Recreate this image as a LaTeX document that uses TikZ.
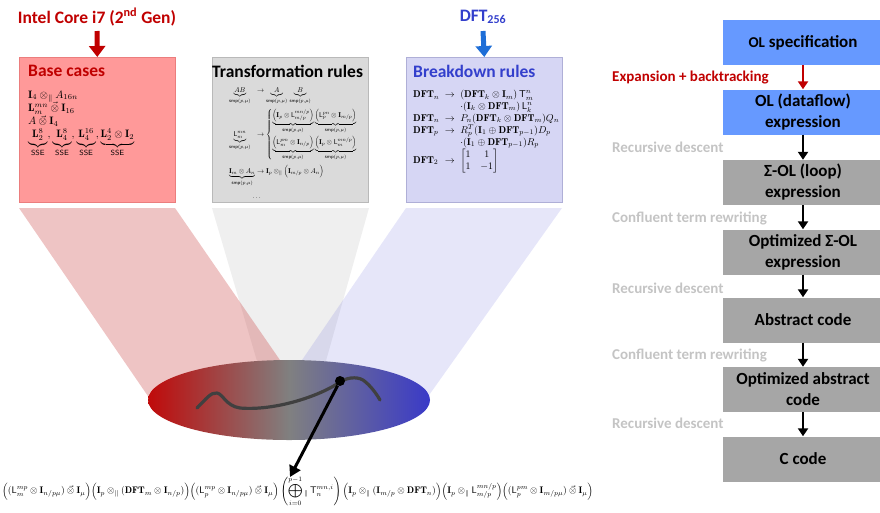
\documentclass[tikz,border=0pt]{standalone}
\usepackage{amsmath,amssymb}
\usepackage{fontspec}
\newfontfamily\calibri{Carlito}
\usetikzlibrary{arrows.meta}

\definecolor{darkred}{RGB}{192,0,0}
\definecolor{basefill}{RGB}{255,153,153}
\definecolor{baseedge}{RGB}{235,125,125}
\definecolor{rulefill}{RGB}{218,218,218}
\definecolor{ruleedge}{RGB}{185,185,185}
\definecolor{bdfill}{RGB}{214,214,244}
\definecolor{bdedge}{RGB}{175,175,215}
\definecolor{titleblue}{RGB}{51,63,204}
\definecolor{arrowblue}{RGB}{30,110,215}
\definecolor{olblue}{RGB}{102,153,255}
\definecolor{stagegray}{RGB}{166,166,166}
\definecolor{notegray}{RGB}{196,196,196}
\definecolor{ellred}{RGB}{192,10,10}
\definecolor{ellblue}{RGB}{58,58,200}
\definecolor{ellmid}{RGB}{128,128,128}
\definecolor{curvegray}{RGB}{64,64,64}
\definecolor{beamgray}{RGB}{239,239,239}
\definecolor{beamred}{RGB}{200,60,60}
\definecolor{beamblue}{RGB}{100,100,220}

% SPIRAL-style operators
\newcommand{\vtensor}{\mathbin{\vec{\otimes}}}
\newcommand{\ptensor}{\mathbin{\otimes_{\parallel}}}
\newcommand{\smpn}{\text{\sffamily smp}(p,\mu)}
\newcommand{\sse}{\text{\sffamily SSE}}
\newcommand{\rowgap}[1]{\noalign{\vskip #1}}

\begin{document}
\begin{tikzpicture}[x=1pt,y=-1pt,
  heading/.style={font=\calibri\bfseries\fontsize{17.5}{20}\selectfont, inner sep=0, anchor=west},
  rulebox/.style={rectangle, minimum width=156pt, minimum height=145pt, anchor=north west, line width=0.6pt},
  stage/.style={rectangle, minimum width=160pt, minimum height=45pt, inner sep=0, align=center,
                font=\calibri\bfseries\fontsize{17}{21}\selectfont},
  olstage/.style={stage, fill=olblue},
  grstage/.style={stage, fill=stagegray},
  note/.style={font=\calibri\bfseries\fontsize{15}{18}\selectfont, inner sep=0, anchor=west, text=notegray},
  flow/.style={line width=2.4pt, -{Triangle[length=8pt,width=10pt]}},
  feed/.style={line width=5pt, -{Triangle[length=11pt,width=16pt]}},
]
\useasboundingbox (0,0) rectangle (880,512);

% ---- light beams from the rule boxes down to the search space ----
\fill[beamgray] (212,208) -- (369,208) -- (324,368) -- (259,368) -- cycle;
\fill[beamred, opacity=0.3] (19,208) -- (175,208) -- (302,392) -- (152,402) -- cycle;
\fill[beamblue, opacity=0.16] (406,208) -- (562,208) -- (427,398) -- (287,382) -- cycle;

% ---- the three rule boxes ----
\node[rulebox, fill=basefill, draw=baseedge] (base) at (19,57) {};
\node[rulebox, fill=rulefill, draw=ruleedge] (trans) at (212,57) {};
\node[rulebox, fill=bdfill, draw=bdedge] (bd) at (406,57) {};

\node[heading, text=darkred] (basetitle) at (28,71) {Base cases};
\node[heading, text=black] (transtitle) at (212,71) {Transformation rules};
\node[heading, text=titleblue] (bdtitle) at (413,71) {Breakdown rules};

\node[anchor=north west, inner sep=0] (basetext) at (28,89) {\resizebox{106pt}{!}{$\begin{array}{@{}l@{}}
\mathbf{I}_4\ptensor A_{16n}\\
\mathbf{L}^{mn}_m\vtensor\mathbf{I}_{16}\\
A\vtensor\mathbf{I}_4\\
\underbrace{\mathbf{L}^8_2}_{\sse},\underbrace{\mathbf{L}^8_4}_{\sse},\underbrace{\mathbf{L}^{16}_4}_{\sse},\underbrace{\mathbf{L}^4_2\otimes\mathbf{I}_2}_{\sse}
\end{array}$}};

\node[anchor=north west, inner sep=0] (transtext) at (229,86) {\resizebox{135pt}{!}{$\begin{array}{@{}l@{\;}c@{\;}l@{}}
\underbrace{AB}_{\smpn} & \to & \underbrace{A}_{\smpn}\,\underbrace{B}_{\smpn}\\\rowgap{7pt}
\underbrace{\mathsf{L}^{mn}_m}_{\smpn} & \to & \begin{cases}
\underbrace{\Big(\mathbf{I}_p\otimes\mathsf{L}^{mn/p}_{m/p}\Big)}_{\smpn}\underbrace{\Big(\mathsf{L}^{pn}_p\otimes\mathbf{I}_{m/p}\Big)}_{\smpn}\\\rowgap{4pt}
\underbrace{\Big(\mathsf{L}^{pm}_m\otimes\mathbf{I}_{n/p}\Big)}_{\smpn}\underbrace{\Big(\mathbf{I}_p\otimes\mathsf{L}^{mn/p}_{m}\Big)}_{\smpn}
\end{cases}\\\rowgap{6pt}
\underbrace{\mathbf{I}_m\otimes A_n}_{\smpn} & \to & \mathbf{I}_p\ptensor\Big(\mathbf{I}_{m/p}\otimes A_n\Big)\\\rowgap{9pt}
\multicolumn{3}{@{}l}{\qquad\quad\ \dots}
\end{array}$}};

\node[anchor=north west, inner sep=0] (bdtext) at (413,89) {\resizebox{146pt}{!}{$\begin{array}{@{}l@{\;\;}c@{\;\;}l@{}}
\mathbf{DFT}_n & \to & (\mathbf{DFT}_k\otimes\mathbf{I}_m)\,\mathsf{T}^n_m\\
 & & \cdot(\mathbf{I}_k\otimes\mathbf{DFT}_m)\,\mathsf{L}^n_k\\
\mathbf{DFT}_n & \to & P_n(\mathbf{DFT}_k\otimes\mathbf{DFT}_m)Q_n\\
\mathbf{DFT}_p & \to & R_p^T(\mathbf{I}_1\oplus\mathbf{DFT}_{p-1})D_p\\
 & & \cdot(\mathbf{I}_1\oplus\mathbf{DFT}_{p-1})R_p\\
\mathbf{DFT}_2 & \to & \begin{bmatrix}1&1\\1&-1\end{bmatrix}
\end{array}$}};

% ---- inputs: target machine and transform ----
\node[font=\calibri\bfseries\fontsize{17.5}{20}\selectfont, text=darkred, inner sep=0] (intel) at (97,17)
  {Intel Core i7 (2\textsuperscript{nd} Gen)};
\node[font=\calibri\bfseries\fontsize{17.5}{20}\selectfont, text=titleblue, inner sep=0] (dft) at (483,17)
  {DFT\textsubscript{\fontsize{12}{14}\selectfont 256}};
\draw[feed, darkred] (intel.south |- 0,31) -- (base.north);
\draw[feed, arrowblue] (dft.south |- 0,31) -- (bd.north);

% ---- search space ----
\shade[left color=ellred, right color=ellblue, middle color=ellmid] (289,400) ellipse [x radius=141pt, y radius=40pt];
\draw[curvegray, line width=3.2pt, line cap=round, line join=round]
  (197,408) .. controls (206,399) and (211,392) .. (217,393)
  .. controls (223,394) and (226,406) .. (240,408)
  .. controls (275,411) and (320,396) .. (340,382)
  .. controls (346,378) and (356,376) .. (363,380)
  .. controls (370,385) and (376,393) .. (380,400);
\node[circle, fill=black, inner sep=0, minimum size=10pt] (dot) at (340,381) {};
\coordinate (tip) at (290,477);
\draw[line width=3pt, -{Triangle[length=11pt,width=12pt]}] (dot) -- (tip);

% ---- the selected formula ----
\node[inner sep=0, anchor=west] (formula) at (2,491) {\resizebox{591pt}{!}{$\displaystyle
\Big((\mathsf{L}^{mp}_m\otimes\mathbf{I}_{n/p\mu})\vtensor\mathbf{I}_\mu\Big)
\Big(\mathbf{I}_p\ptensor(\mathbf{DFT}_m\otimes\mathbf{I}_{n/p})\Big)
\Big((\mathsf{L}^{mp}_p\otimes\mathbf{I}_{n/p\mu})\vtensor\mathbf{I}_\mu\Big)
\left(\bigoplus_{i=0}^{p-1}{}_{\parallel}\,\mathsf{T}^{mn,i}_n\right)
\Big(\mathbf{I}_p\ptensor(\mathbf{I}_{m/p}\otimes\mathbf{DFT}_n)\Big)
\Big(\mathbf{I}_p\ptensor\mathsf{L}^{mn/p}_{m/p}\Big)
\Big((\mathsf{L}^{pm}_p\otimes\mathbf{I}_{m/p\mu})\vtensor\mathbf{I}_\mu\Big)$}};

% ---- compilation pipeline ----
\node[olstage] (s1) at (803,42.5) {{\fontsize{15}{21}\selectfont OL} specification};
\node[olstage] (s2) at (803,112) {OL (dataflow)\\expression};
\node[grstage] (s3) at (803,182.5) {Σ-OL (loop)\\expression};
\node[grstage] (s4) at (803,252) {Optimized Σ-OL\\expression};
\node[grstage] (s5) at (803,320) {Abstract code};
\node[grstage] (s6) at (803,389.5) {Optimized abstract\\code};
\node[grstage] (s7) at (803,459) {C code};

\draw[flow, darkred] (s1) -- (s2);
\draw[flow] (s2) -- (s3);
\draw[flow] (s3) -- (s4);
\draw[flow] (s4) -- (s5);
\draw[flow] (s5) -- (s6);
\draw[flow] (s6) -- (s7);

\node[note, text=darkred] (n1) at (612,78) {Expansion + backtracking};
\node[note] (n2) at (612,147) {Recursive descent};
\node[note] (n3) at (612,218) {Confluent term rewriting};
\node[note] (n4) at (612,288) {Recursive descent};
\node[note] (n5) at (612,355) {Confluent term rewriting};
\node[note] (n6) at (612,423) {Recursive descent};
\end{tikzpicture}
\end{document}
